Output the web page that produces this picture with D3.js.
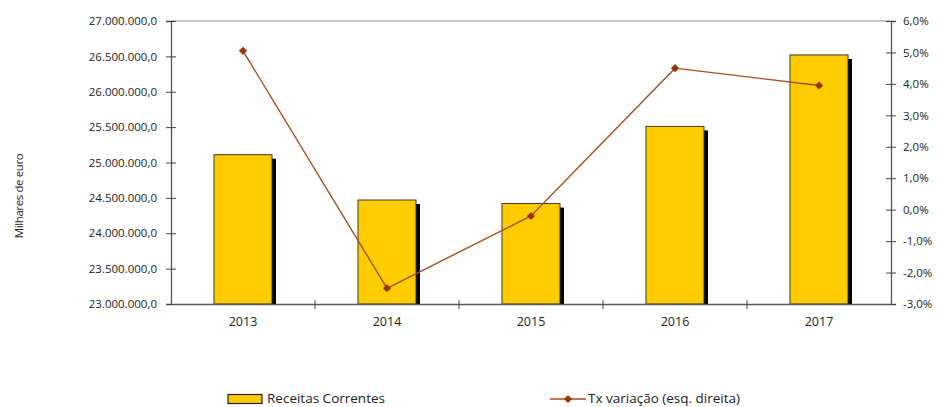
<!DOCTYPE html>
<html>
<head>
<meta charset="utf-8">
<script src="https://cdn.jsdelivr.net/npm/d3@7"></script>
<style>
  body { margin: 0; background: #fff; }
  svg text { font-family: "Open Sans", "Liberation Sans", Arial, sans-serif; fill: #222; }
</style>
</head>
<body>
<svg id="chart" width="938" height="407"></svg>
<script>
// Receitas correntes (milhares de euro) and year-on-year change
const years = ["2013", "2014", "2015", "2016", "2017"];
const receitas = [25110000, 24470000, 24420000, 25510000, 26520000];
const txVariacao = [5.05, -2.5, -0.2, 4.5, 3.95];
const leftTicks = [23000000, 23500000, 24000000, 24500000, 25000000, 25500000, 26000000, 26500000, 27000000];
const rightTicks = [-3, -2, -1, 0, 1, 2, 3, 4, 5, 6];

const svg = d3.select("#chart");
const m = { left: 171, right: 891, top: 21, bottom: 304 };

const x = d3.scaleBand().domain(years).range([m.left, m.right]).paddingInner(0.6).paddingOuter(0.3);
const xc = d => x(d) + x.bandwidth() / 2;
const yL = d3.scaleLinear().domain([23000000, 27000000]).range([m.bottom, m.top]);
const yR = d3.scaleLinear().domain([-3, 6]).range([m.bottom, m.top]);

const fmtThousands = v => d3.format(",.1f")(v).replace(/,/g, "#").replace(".", ",").replace(/#/g, ".");
const fmtPct = v => d3.format(".1f")(v).replace(".", ",").replace("−", "-") + "%";

// Top border of the plot area
svg.append("line").attr("x1", m.left).attr("x2", m.right).attr("y1", m.top).attr("y2", m.top)
  .attr("stroke", "#888").attr("stroke-width", 1);

// Bars with a drop shadow
const barW = 58;
const bars = svg.append("g");
bars.selectAll("rect.shadow").data(years).join("rect")
  .attr("class", "shadow")
  .attr("x", (d) => xc(d) - barW / 2 + 4)
  .attr("y", (d, i) => yL(receitas[i]) + 4)
  .attr("width", barW)
  .attr("height", (d, i) => m.bottom - yL(receitas[i]) - 4)
  .attr("fill", "#000");
bars.selectAll("rect.bar").data(years).join("rect")
  .attr("class", "bar")
  .attr("x", (d) => xc(d) - barW / 2)
  .attr("y", (d, i) => yL(receitas[i]))
  .attr("width", barW)
  .attr("height", (d, i) => m.bottom - yL(receitas[i]))
  .attr("fill", "#FFCC00")
  .attr("stroke", "#3a3a2a")
  .attr("stroke-width", 1);

// Axes
const gL = svg.append("g").attr("transform", `translate(${m.left},0)`)
  .call(d3.axisLeft(yL).tickValues(leftTicks).tickFormat(fmtThousands).tickSizeOuter(0).tickSize(5));
gL.selectAll(".tick line").attr("x2", 5).attr("x1", -5);
gL.selectAll(".tick text").attr("x", -14);

const gR = svg.append("g").attr("transform", `translate(${m.right},0)`)
  .call(d3.axisRight(yR).tickValues(rightTicks).tickFormat(fmtPct).tickSizeOuter(0).tickSize(5));
gR.selectAll(".tick line").attr("x1", -5).attr("x2", 5);
gR.selectAll(".tick text").attr("x", 12);

const gX = svg.append("g").attr("transform", `translate(0,${m.bottom})`)
  .call(d3.axisBottom(x).tickSize(0).tickSizeOuter(0));
gX.selectAll(".tick text").attr("dy", "1.5em");
// Category separators on the x axis
const step = x.step();
const seps = years.slice(1).map(d => x(d) - (step - x.bandwidth()) / 2);
gX.selectAll("line.sep").data(seps).join("line").attr("class", "sep")
  .attr("x1", d => d).attr("x2", d => d).attr("y1", -4).attr("y2", 5)
  .attr("stroke", "#444");

[gL, gR, gX].forEach(g => {
  g.select(".domain").attr("stroke", "#555").attr("stroke-width", 1.3);
  g.selectAll(".tick line").attr("stroke", "#444");
  g.selectAll("text").attr("font-size", 11.5).attr("fill", "#222")
    .attr("font-family", "Open Sans, Liberation Sans, Arial, sans-serif");
});
gX.selectAll("text").attr("font-size", 12.5);

// Variation line on the right-hand scale
const line = d3.line().x((d, i) => xc(years[i])).y(d => yR(d));
svg.append("path").datum(txVariacao).attr("d", line)
  .attr("fill", "none").attr("stroke", "#A84A22").attr("stroke-width", 1.4);
svg.append("g").selectAll("path").data(txVariacao).join("path")
  .attr("d", d3.symbol(d3.symbolDiamond2, 42))
  .attr("transform", (d, i) => `translate(${xc(years[i])},${yR(d)})`)
  .attr("fill", "#993300");

// Y-axis title
svg.append("text").attr("transform", "translate(23,196) rotate(-90)")
  .attr("text-anchor", "middle").attr("font-size", 11.5).attr("letter-spacing", -0.4)
  .text("Milhares de euro");

// Legend
const lg = svg.append("g");
lg.append("rect").attr("x", 228).attr("y", 394.5).attr("width", 34).attr("height", 9)
  .attr("fill", "#FFCC00").attr("stroke", "#222").attr("stroke-width", 1.2);
lg.append("text").attr("x", 267).attr("y", 403).attr("font-size", 13.5).text("Receitas Correntes");
lg.append("line").attr("x1", 550).attr("x2", 586).attr("y1", 399).attr("y2", 399)
  .attr("stroke", "#A84A22").attr("stroke-width", 1.4);
lg.append("path").attr("d", d3.symbol(d3.symbolDiamond2, 42)).attr("transform", "translate(568,399)")
  .attr("fill", "#993300");
lg.append("text").attr("x", 588).attr("y", 403).attr("font-size", 13.5).text("Tx variação (esq. direita)");
</script>
</body>
</html>
